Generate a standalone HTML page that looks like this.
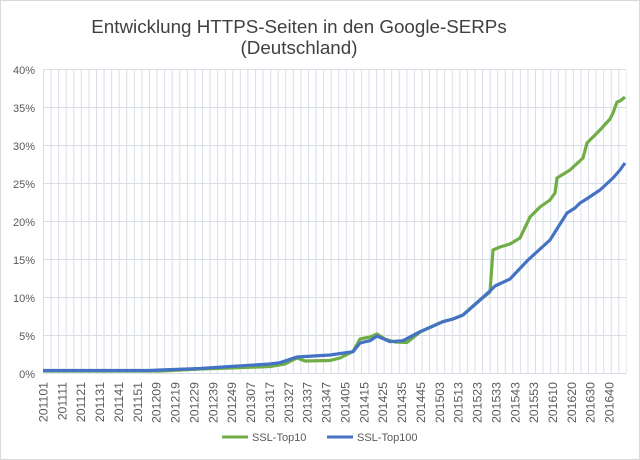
<!DOCTYPE html>
<html><head><meta charset="utf-8"><style>
html,body{margin:0;padding:0;background:#fff}
svg{display:block}
text{font-family:"Liberation Sans",Arial,sans-serif}
</style></head><body>
<svg width="640" height="460" viewBox="0 0 640 460" xmlns="http://www.w3.org/2000/svg">
<defs>
<pattern id="vg" x="43" y="0" width="7.57" height="460" patternUnits="userSpaceOnUse">
<line x1="0.5" y1="0" x2="0.5" y2="460" stroke="#d9dde6" stroke-width="1"/>
</pattern>
</defs>
<rect x="0.5" y="0.5" width="639" height="459" fill="#fff" stroke="#d9d9d9"/>
<text x="299" y="33" font-size="18.8" fill="#404040" text-anchor="middle">Entwicklung HTTPS-Seiten in den Google-SERPs</text>
<text x="299" y="54" font-size="18.8" fill="#404040" text-anchor="middle">(Deutschland)</text>
<rect x="42.5" y="69.5" width="584" height="304.5" fill="url(#vg)"/>
<g stroke="#d9dde6" stroke-width="1">
<line x1="43" y1="373.5" x2="626" y2="373.5"/><line x1="43" y1="335.5" x2="626" y2="335.5"/><line x1="43" y1="297.5" x2="626" y2="297.5"/><line x1="43" y1="259.5" x2="626" y2="259.5"/><line x1="43" y1="221.5" x2="626" y2="221.5"/><line x1="43" y1="183.5" x2="626" y2="183.5"/><line x1="43" y1="145.5" x2="626" y2="145.5"/><line x1="43" y1="107.5" x2="626" y2="107.5"/><line x1="43" y1="69.5" x2="626" y2="69.5"/>
</g>
<g font-size="11" fill="#595959" text-anchor="end">
<text x="35" y="378">0%</text><text x="35" y="340">5%</text><text x="35" y="302">10%</text><text x="35" y="264">15%</text><text x="35" y="226">20%</text><text x="35" y="188">25%</text><text x="35" y="150">30%</text><text x="35" y="112">35%</text><text x="35" y="74">40%</text>
</g>
<g font-size="12.3" fill="#595959" text-anchor="end">
<text transform="translate(47.5,382) rotate(-90)">201101</text>
<text transform="translate(66.4,382) rotate(-90)">201111</text>
<text transform="translate(85.2,382) rotate(-90)">201121</text>
<text transform="translate(104.1,382) rotate(-90)">201131</text>
<text transform="translate(123,382) rotate(-90)">201141</text>
<text transform="translate(141.9,382) rotate(-90)">201151</text>
<text transform="translate(160.7,382) rotate(-90)">201209</text>
<text transform="translate(179.6,382) rotate(-90)">201219</text>
<text transform="translate(198.5,382) rotate(-90)">201229</text>
<text transform="translate(217.3,382) rotate(-90)">201239</text>
<text transform="translate(236.2,382) rotate(-90)">201249</text>
<text transform="translate(255.1,382) rotate(-90)">201307</text>
<text transform="translate(273.9,382) rotate(-90)">201317</text>
<text transform="translate(292.8,382) rotate(-90)">201327</text>
<text transform="translate(311.7,382) rotate(-90)">201337</text>
<text transform="translate(330.6,382) rotate(-90)">201347</text>
<text transform="translate(349.4,382) rotate(-90)">201405</text>
<text transform="translate(368.3,382) rotate(-90)">201415</text>
<text transform="translate(387.2,382) rotate(-90)">201425</text>
<text transform="translate(406,382) rotate(-90)">201435</text>
<text transform="translate(424.9,382) rotate(-90)">201445</text>
<text transform="translate(443.8,382) rotate(-90)">201503</text>
<text transform="translate(462.6,382) rotate(-90)">201513</text>
<text transform="translate(481.5,382) rotate(-90)">201523</text>
<text transform="translate(500.4,382) rotate(-90)">201533</text>
<text transform="translate(519.3,382) rotate(-90)">201543</text>
<text transform="translate(538.1,382) rotate(-90)">201553</text>
<text transform="translate(557,382) rotate(-90)">201610</text>
<text transform="translate(575.9,382) rotate(-90)">201620</text>
<text transform="translate(594.7,382) rotate(-90)">201630</text>
<text transform="translate(613.6,382) rotate(-90)">201640</text>
</g>
<polyline fill="none" stroke="#70ad47" stroke-width="3.2" stroke-linejoin="round" points="43,371 150,371 160,371 200,369 230,368 270,366.5 285,364 297,358 305,361 330,360.5 340,358 353,351.5 360,339 370,337 377,334 385,339 395,342 407,342.5 420,332 443,321.5 453,319 463,315 480,300 490,292 493,250 500,247 510,244 520,238 530,217 540,207 550,200 555,193 557,178 570,170 583,158 587,143 600,130 610,119 613,113 617,102 620,101 625,97"/>
<polyline fill="none" stroke="#4472c4" stroke-width="3.2" stroke-linejoin="round" points="43,370.5 150,370.5 160,370 200,368.5 230,366.5 270,364 280,362.7 297,357 330,355 353,351.7 360,343 370,340.7 377,336 390,341.7 403,340.7 420,331.7 443,321.7 453,319 463,315 480,300 490,291 495,286 510,279 528,260 550,240 567,213 575,208 580,203 585,200 600,190 613,178 620,170 625,163"/>
<line x1="222" y1="437" x2="248" y2="437" stroke="#70ad47" stroke-width="3"/>
<text x="252" y="441" font-size="11" fill="#595959">SSL-Top10</text>
<line x1="327" y1="437" x2="353" y2="437" stroke="#4472c4" stroke-width="3"/>
<text x="357" y="441" font-size="11" fill="#595959">SSL-Top100</text>
</svg>
</body></html>
